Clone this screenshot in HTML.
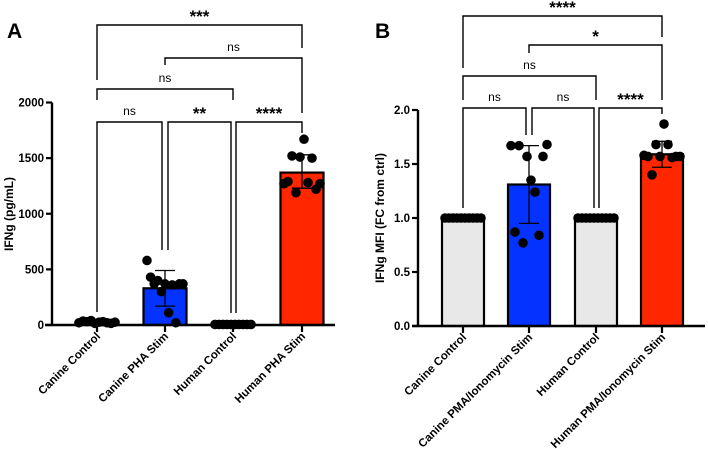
<!DOCTYPE html>
<html><head><meta charset="utf-8"><style>
body{margin:0;background:#fff}
svg{display:block;font-family:"Liberation Sans",Arial,sans-serif}
</style></head><body>
<svg id="c" width="708" height="449" viewBox="0 0 708 449"></svg>
<script>
// Panel A data
const catsA=["Canine Control","Canine PHA Stim","Human Control","Human PHA Stim"];
const meansA=[25,330,6,1370];
const sdLowA=[25,170,6,1230];
const sdHighA=[25,490,6,1530];
const ptsA0=[20,35,30,40,15,25,30,20,15,25];
const ptsA1=[580,430,370,400,300,370,110,360,20,370,370];
const ptsA2=[5,5,5,5,5,5,5,5,5,5];
const ptsA3=[1270,1290,1520,1190,1510,1670,1280,1500,1220,1270];
const ticksA=[0,500,1000,1500,2000];
// Panel B data
const catsB=["Canine Control","Canine PMA/Ionomycin Stim","Human Control","Human PMA/Ionomycin Stim"];
const meansB=[1.0,1.31,1.0,1.59];
const sdLowB=[1.0,0.95,1.0,1.47];
const sdHighB=[1.0,1.67,1.0,1.71];
const ptsB0=[1,1,1,1,1,1,1,1,1,1];
const ptsB1=[1.67,0.87,1.67,0.77,1.57,1.35,1.24,0.84,1.57,1.68];
const ptsB2=[1,1,1,1,1,1,1,1,1,1];
const ptsB3=[1.58,1.57,1.40,1.68,1.57,1.87,1.68,1.56,1.57,1.57];
const ticksB=[0.0,0.5,1.0,1.5,2.0];
const tickLabelsB=["0.0","0.5","1.0","1.5","2.0"];
const colors=["#e8e8e8","#0433ff","#e8e8e8","#ff2600"];

const svg=document.getElementById('c');
const NS="http://www.w3.org/2000/svg";
function mk(tag,attrs,parent){const e=document.createElementNS(NS,tag);for(const k in attrs)e.setAttribute(k,attrs[k]);(parent||svg).appendChild(e);return e;}

function panel(o){
  const g=mk('g',{});
  
  
  const y=v=>o.y0-(v-o.vmin)/(o.vmax-o.vmin)*(o.y0-o.y1);
  const x=i=>o.cx[i];
  o.means.forEach((m,i)=>{
    const r=mk('rect',{x:x(i)-o.bw/2,y:y(m),width:o.bw,height:o.y0-y(m),fill:colors[i],stroke:'#000','stroke-width':2.2},g);
    
    
  });
  o.pts.forEach((arr,i)=>{
    const n=arr.length;
    arr.forEach((v,j)=>{
      const off=n>1?(j-(n-1)/2)*(36/(n-1)):0;
      const c=mk('circle',{cx:x(i)+off,cy:y(v),r:4.8,fill:'#000'},g);
      
      
    });
  });
  o.means.forEach((m,i)=>{
    if(o.hi[i]===o.lo[i])return;
    const e=mk('path',{d:`M${x(i)},${y(o.lo[i])}V${y(o.hi[i])}M${x(i)-10},${y(o.hi[i])}H${x(i)+10}M${x(i)-10},${y(o.lo[i])}H${x(i)+10}`,stroke:'#000','stroke-width':1.3,fill:'none'},g);
    
    
  });
  const ax=mk('path',{d:`M${o.ax},${o.y1}V${o.y0}M${o.xL},${o.y0}H${o.xR}`,stroke:'#000','stroke-width':2.4,fill:'none'},g);
  
  
  o.ticks.forEach((t,k)=>{
    mk('line',{x1:o.ax-6,x2:o.ax,y1:y(t),y2:y(t),stroke:'#000','stroke-width':2.2},g);
    const tl=mk('text',{x:o.ax-8,y:y(t)+4,'text-anchor':'end','font-size':11.5,'font-weight':'bold'},g);
    tl.textContent=o.tickLabels?o.tickLabels[k]:t;
    
    
  });
  o.cats.forEach((c,i)=>{
    mk('line',{x1:x(i),x2:x(i),y1:o.y0,y2:o.y0+7,stroke:'#000','stroke-width':2.2},g);
    const t=mk('text',{x:x(i)+4,y:o.y0+12,'text-anchor':'end','font-size':11.5,'font-weight':'bold',transform:`rotate(-45 ${x(i)+4} ${o.y0+12})`},g);
    t.textContent=c;
    
    
  });
  const yt=mk('text',{x:o.ytx,y:o.yty,'text-anchor':'middle','font-size':12,'font-weight':'bold',transform:`rotate(-90 ${o.ytx} ${o.yty})`},g);
  yt.textContent=o.ytitle;
  
  
  const L=mk('text',{x:o.lx,y:38,'font-size':21,'font-weight':'bold'},g);
  L.textContent=o.letter;
  
  
  o.br.forEach(b=>{
    const x1=x(b[0])+(b[6]||0),x2=x(b[1])+(b[7]||0);
    const p=mk('path',{d:`M${x1},${b[3]}V${b[2]}H${x2}V${b[4]}`,stroke:'#000','stroke-width':1.4,fill:'none'},g);
    
    
    const star=b[5]!=='ns';
    const t=mk('text',{x:(x1+x2)/2,y:b[2]-(star?3:7),'text-anchor':'middle','font-size':star?17:12,'font-weight':star?'bold':'normal'},g);
    t.textContent=b[5];
    
    
  });
}
panel({name:'panel-a',letter:'A',lx:7,cats:catsA,means:meansA,lo:sdLowA,hi:sdHighA,pts:[ptsA0,ptsA1,ptsA2,ptsA3],
  ticks:ticksA,vmin:0,vmax:2000,y0:325,y1:102.5,ax:52,xL:45,xR:335,cx:[97,165,233,302],bw:43,
  ytitle:'IFNg (pg/mL)',ytx:13,yty:214,
  br:[[0,3,25,80,48,'***'],[1,3,58,65,113,'ns'],[0,2,89,100,100,'ns'],
      [0,1,122,312,250,'ns',0,-3],[1,2,122,250,313,'**',3,-2],[2,3,122,313,133,'****',3,0]]});
panel({name:'panel-b',letter:'B',lx:375,cats:catsB,means:meansB,lo:sdLowB,hi:sdHighB,pts:[ptsB0,ptsB1,ptsB2,ptsB3],
  ticks:ticksB,tickLabels:tickLabelsB,vmin:0,vmax:2,y0:326,y1:110,ax:418,xL:412,xR:705,cx:[463,529,596,662],bw:42,
  ytitle:'IFNg MFI (FC from ctrl)',ytx:384,yty:218,
  br:[[0,3,16,68,37,'****'],[1,3,45,53,100,'*'],[0,2,76,100,100,'ns'],
      [0,1,108,208,135,'ns',0,-3],[1,2,108,135,208,'ns',3,-2],[2,3,108,208,114,'****',3,0]]});
</script>
</body></html>
